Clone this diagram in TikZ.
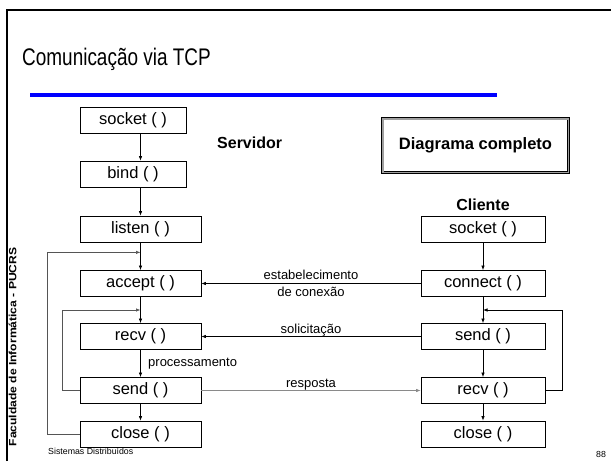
\documentclass[tikz,border=0pt]{standalone}
\usepackage{fontspec}
\setmainfont{Liberation Sans}
\newfontfamily\titlefont[FakeStretch=0.79]{Liberation Sans}
\usetikzlibrary{arrows.meta,calc}

\definecolor{loopgray}{HTML}{555555}
\definecolor{replygray}{HTML}{8A8A8A}
\definecolor{rulerblue}{HTML}{0000FF}

\begin{document}
\begin{tikzpicture}[x=1pt,y=-1pt,
  box/.style={draw=black, line width=0.8pt, minimum height=26pt, inner sep=0pt,
              font=\fontsize{16.5}{18}\selectfont},
  topbox/.style={box, minimum width=106pt},
  srvbox/.style={box, minimum width=121pt},
  clibox/.style={box, minimum width=124pt},
  arr/.style={line width=0.7pt, -{Latex[length=4.5pt,width=3.5pt]}},
  looparr/.style={arr, draw=loopgray},
  lbl/.style={font=\fontsize{13}{17}\selectfont, inner sep=0pt},
  side/.style={font=\bfseries\fontsize{16}{18}\selectfont, inner sep=0pt}
]
\useasboundingbox (0,0) rectangle (611,461);

% slide frame and title
\draw[line width=2pt] (6.5,461) -- (6.5,10) -- (611,10);
\node[anchor=base west, inner sep=0pt, font=\titlefont\fontsize{24}{28}\selectfont]
  (title) at (22,65) {Comunicação via TCP};
\draw[rulerblue, line width=4pt] (30,95) -- (497,95);

% side and footer texts
\node[rotate=90, inner sep=0pt, font=\bfseries\fontsize{10.5}{12}\selectfont]
  (fac) at (12.5,347) {\scalebox{1.15}[1]{Faculdade de Informática - PUCRS}};
\node[anchor=west, inner sep=0pt, font=\fontsize{8.8}{10}\selectfont]
  (foot) at (48,451) {Sistemas Distribuídos};
\node[inner sep=0pt, font=\fontsize{8.8}{10}\selectfont] (pg) at (601,454) {88};

% server column
\node[topbox] (ssock)   at (133,120)     {socket ( )};
\node[topbox] (sbind)   at (133,174)     {bind ( )};
\node[srvbox] (slisten) at (140.5,229)   {listen ( )};
\node[srvbox] (sacc)    at (140.5,283.5) {accept ( )};
\node[srvbox] (srecv)   at (140.5,336.5) {recv ( )};
\node[srvbox] (ssend)   at (140.5,390.5) {send ( )};
\node[srvbox] (sclose)  at (140.5,434)   {close ( )};
\node[side, anchor=west] (srvlbl) at (217,143) {Servidor};

% client column
\node[clibox] (csock)  at (483,229)     {socket ( )};
\node[clibox] (cconn)  at (483,283.5)   {connect ( )};
\node[clibox] (csend)  at (483,336.5)   {send ( )};
\node[clibox] (crecv)  at (483,390.5)   {recv ( )};
\node[clibox] (cclose) at (483,434)     {close ( )};
\node[side] (clilbl) at (483,205) {Cliente};

% framed caption
\node[draw=black, double=gray!75, double distance=1.6pt, line width=0.9pt,
      minimum width=185.6pt, minimum height=53.6pt, inner sep=0pt,
      font=\bfseries\fontsize{16.5}{18}\selectfont]
  (caption) at (475.5,145.5) {Diagrama completo};

% server flow
\draw[arr] (ssock.south -| slisten) -- (sbind.north -| slisten);
\draw[arr] (sbind.south -| slisten) -- (slisten.north);
\draw[arr] (slisten) -- (sacc);
\draw[arr] (sacc) -- (srecv);
\draw[arr] (srecv) -- (ssend);
\draw[arr] (ssend) -- (sclose);
\node[lbl, anchor=west] (proc) at (148,364) {processamento};

% server loops
\coordinate (sj1) at ($(slisten.south)!0.36!(sacc.north)$);
\coordinate (sj2) at ($(sacc.south)!0.5!(srecv.north)$);
\draw[looparr] (sclose.west) -- ++(-32,0) |- (sj1);
\draw[looparr] (ssend.west) -- ++(-17,0) |- (sj2);

% client flow
\draw[arr] (csock) -- (cconn);
\draw[arr] (cconn) -- (csend);
\draw[arr] (csend) -- (crecv);
\draw[arr] (crecv) -- (cclose);
\coordinate (cj) at ($(cconn.south)!0.5!(csend.north)$);
\draw[arr] (crecv.east) -- ++(17,0) |- (cj);

% messages between the two sides
\draw[arr] (cconn.west) -- (sacc.east)
  node[lbl, midway, align=center] (est) {estabelecimento\\de conexão};
\draw[arr] (csend.west) -- (srecv.east |- csend.west)
  node[lbl, midway, above] (sol) {solicitação};
\draw[arr, draw=replygray] (ssend.east) -- (crecv.west |- ssend.east)
  node[lbl, midway, above, text=black] (resp) {resposta};
\end{tikzpicture}
\end{document}
